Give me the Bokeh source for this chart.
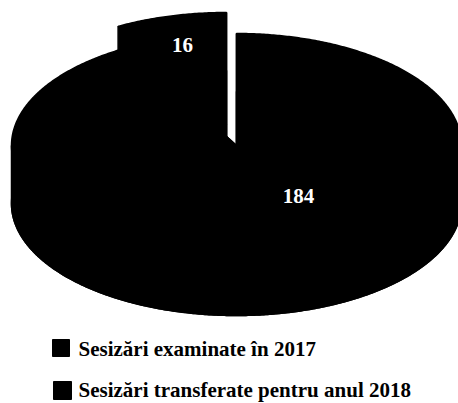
import math
from bokeh.plotting import figure
from bokeh.models import Range1d
from bokeh.core.properties import value
from bokeh.embed import file_html
from bokeh.resources import INLINE

categories = ["Sesizări examinate în 2017", "Sesizări transferate pentru anul 2018"]
values = [184, 16]

INK = "#000000"
FONT = value("Liberation Serif")
CX, CY, RX, RY, DEPTH = 236, 145, 225, 112, 58
SHIFT = (-10, -21)

p = figure(width=458, height=403, output_backend="svg", toolbar_location=None,
           x_range=Range1d(0, 458), y_range=Range1d(403, 0),
           min_border=0, outline_line_color=None, background_fill_color="white")
p.axis.visible = False
p.grid.visible = False


def arc(cx, cy, a0, a1):
    n = max(int(abs(a1 - a0) * 2), 2)
    pts = [a0 + (a1 - a0) * i / n for i in range(n + 1)]
    return ([cx + RX * math.sin(math.radians(a)) for a in pts],
            [cy - RY * math.cos(math.radians(a)) for a in pts])


def slice_polys(a0, a1, cx, cy):
    xs, ys = [], []
    ax, ay = arc(cx, cy, a0, a1)
    xs.append([cx] + ax); ys.append([cy] + ay)                     # top face
    xs.append([cx] + ax); ys.append([cy + DEPTH] + [y + DEPTH for y in ay])  # bottom face
    f0, f1 = max(a0, 90), min(a1, 270)
    if f1 > f0:                                                    # front wall
        wx, wy = arc(cx, cy, f0, f1)
        xs.append(wx + wx[::-1]); ys.append(wy + [y + DEPTH for y in wy[::-1]])
    for i in (0, -1):                                              # radial walls
        xs.append([cx, ax[i], ax[i], cx])
        ys.append([cy, ay[i], ay[i] + DEPTH, cy + DEPTH])
    return xs, ys


total = sum(values)
sweep = 360 * values[1] / total
bx, by = slice_polys(0, 360 - sweep, CX, CY)
sx, sy = slice_polys(360 - sweep, 360, CX + SHIFT[0], CY + SHIFT[1])
p.patches(bx + sx, by + sy, fill_color=INK, line_color=INK, line_width=1.5)

# slice labels
p.text([298], [195], text=[str(values[0])], text_color="white", text_font=FONT,
       text_font_size="21px", text_font_style="bold", text_align="center", text_baseline="middle")
p.text([182], [44], text=[str(values[1])], text_color="white", text_font=FONT,
       text_font_size="21px", text_font_style="bold", text_align="center", text_baseline="middle")

# legend
p.scatter([60.5, 62], [347.5, 390], marker="square", size=[17, 18], fill_color=INK, line_color=INK)
p.text([78, 78], [348, 389], text=categories, text_color="#000000", text_font=FONT,
       text_font_size="21px", text_font_style="bold", text_align="left", text_baseline="middle")

open("out.html", "w").write(file_html(p, INLINE))
